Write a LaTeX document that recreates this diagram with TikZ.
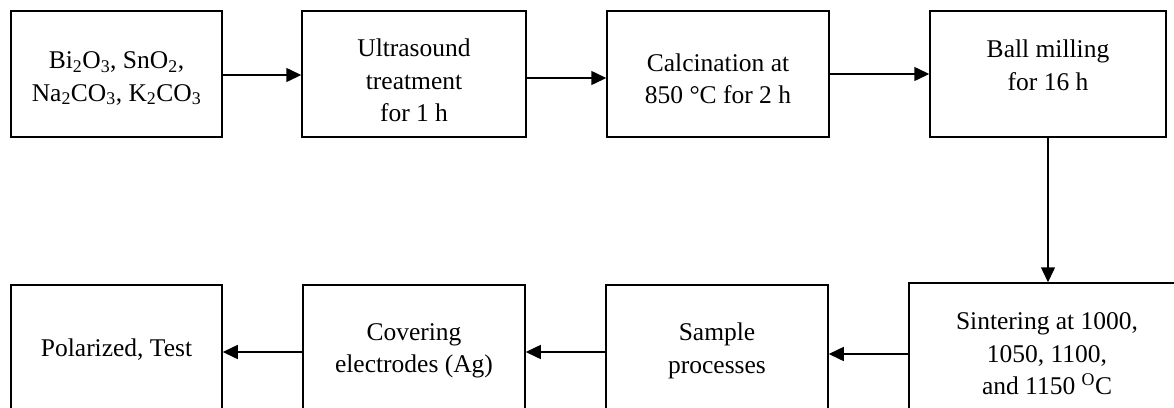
\documentclass[tikz,border=0pt]{standalone}
\usepackage{fontspec}
\setmainfont{Liberation Serif}
\usetikzlibrary{arrows.meta}
\tikzset{
  box/.style={draw, line width=1.5pt, rectangle, minimum height=126pt, inner sep=0pt},
  txt/.style={align=center, font=\fontsize{25.5}{32.5}\selectfont, inner sep=0pt},
  arr/.style={line width=1.5pt, -{Triangle[length=15pt,width=14pt]}}
}
\begin{document}
\begin{tikzpicture}[x=1pt,y=1pt]
\useasboundingbox (0,0) rectangle (1174,-407);
\clip (0,0) rectangle (1174,-407);
% top row
\node[box, minimum width=211pt] (b1) at (116.5,-74) {};
\node[box, minimum width=224pt] (b2) at (414,-74) {};
\node[box, minimum width=222pt] (b3) at (718,-74) {};
\node[box, minimum width=236pt] (b4) at (1048,-74) {};
% bottom row
\node[box, minimum width=278pt] (b5) at (1048,-346) {};
\node[box, minimum width=222pt] (b6) at (717,-348) {};
\node[box, minimum width=222pt] (b7) at (414,-348) {};
\node[box, minimum width=211pt] (b8) at (116.5,-348) {};
% texts
\node[txt] (t1) at (116.5,-78.5) {Bi\textsubscript{2}O\textsubscript{3}, SnO\textsubscript{2},\\Na\textsubscript{2}CO\textsubscript{3}, K\textsubscript{2}CO\textsubscript{3}};
\node[txt] (t2) at (414,-80.5) {Ultrasound\\treatment\\for 1 h};
\node[txt] (t3) at (718,-79) {Calcination at\\850 °C for 2 h};
\node[txt] (t4) at (1048,-65.5) {Ball milling\\for 16 h};
\node[txt] (t5) at (1047,-354) {Sintering at 1000,\\1050, 1100,\\and 1150 \textsuperscript{O}C};
\node[txt] (t6) at (717,-351) {Sample\\processes};
\node[txt] (t7) at (414,-351) {Covering\\electrodes (Ag)};
\node[txt] (t8) at (116.5,-350) {Polarized, Test};
% arrows
\draw[arr] ([yshift=-1pt]b1.east) -- ([yshift=-1pt]b2.west);
\draw[arr] ([yshift=-4pt]b2.east) -- ([yshift=-4pt]b3.west);
\draw[arr] (b3.east) -- (b4.west);
\draw[arr] (b4.south) -- (b5.north);
\draw[arr] ([yshift=-8pt]b5.west) -- ([yshift=-6pt]b6.east);
\draw[arr] ([yshift=-4pt]b6.west) -- ([yshift=-4pt]b7.east);
\draw[arr] ([yshift=-4pt]b7.west) -- ([yshift=-4pt]b8.east);
\end{tikzpicture}
\end{document}
